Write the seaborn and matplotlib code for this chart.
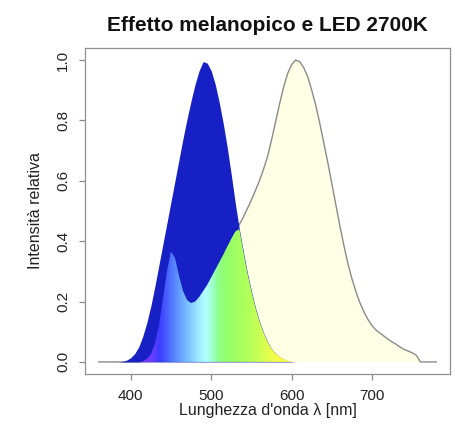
import numpy as np
import pandas as pd
import matplotlib
matplotlib.use("Agg")
import matplotlib.pyplot as plt
from matplotlib.colors import LinearSegmentedColormap
import seaborn as sns

# ---- data ----
wavelength = list(range(360, 785, 5))

melanopic = [
    0, 0, 0, 0, 0, 0,                  # 360-385
    0.002, 0.006, 0.014, 0.028, 0.05,  # 390-410
    0.085, 0.13, 0.185, 0.25, 0.32,    # 415-435
    0.39, 0.46, 0.53, 0.60, 0.67,      # 440-460
    0.74, 0.805, 0.865, 0.92, 0.965,   # 465-485
    0.995, 0.99, 0.965, 0.92, 0.86,    # 490-510
    0.79, 0.71, 0.62, 0.525, 0.44,     # 515-535
    0.365, 0.295, 0.235, 0.18, 0.135,  # 540-560
    0.097, 0.067, 0.044, 0.028, 0.017, # 565-585
    0.009, 0.004, 0.001,               # 590-600
] + [0] * 36                           # 605-780

led_2700k = [
    0, 0, 0, 0, 0, 0, 0, 0, 0, 0, 0,   # 360-410
    0.002, 0.01, 0.025, 0.06, 0.12,    # 415-435
    0.21, 0.30, 0.365, 0.345, 0.285,   # 440-460
    0.235, 0.205, 0.195, 0.2, 0.215,   # 465-485
    0.235, 0.255, 0.28, 0.305, 0.33,   # 490-510
    0.355, 0.382, 0.408, 0.432, 0.455, # 515-535
    0.48, 0.508, 0.537, 0.568, 0.60,   # 540-560
    0.638, 0.68, 0.735, 0.795, 0.855,  # 565-585
    0.91, 0.955, 0.985, 1.0, 0.995,    # 590-610
    0.975, 0.945, 0.90, 0.85, 0.79,    # 615-635
    0.725, 0.66, 0.59, 0.52, 0.45,     # 640-660
    0.385, 0.325, 0.275, 0.232, 0.195, # 665-685
    0.165, 0.14, 0.12, 0.105, 0.095,   # 690-710
    0.085, 0.075, 0.066, 0.058, 0.049, # 715-735
    0.041, 0.036, 0.03, 0.022, 0.0,    # 740-760
    0, 0, 0, 0,                        # 765-780
]

# spectral colours used to paint the overlap, by wavelength
spectrum_nm = [380, 410, 425, 435, 445, 455, 465, 475, 485, 492, 500, 507,
               515, 530, 550, 565, 580, 595, 620]
spectrum_col = ["#6a00b0", "#8a3af0", "#6a3cff", "#3c3cff", "#4a64ff",
                "#5a8cff", "#70b0ff", "#88d0ff", "#a0eeff", "#b0ffff",
                "#a0ffd0", "#90ff90", "#90ff70", "#a0ff60", "#b8ff58",
                "#d8ff50", "#f8ff48", "#ffff40", "#ffe040"]

x_ticks = [400, 500, 600, 700]
y_ticks = [0.0, 0.2, 0.4, 0.6, 0.8, 1.0]
title = "Effetto melanopico e LED 2700K"
x_label = "Lunghezza d'onda λ [nm]"
y_label = "Intensità relativa"

df = pd.DataFrame({"wl": wavelength, "mel": melanopic, "led": led_2700k})
df["overlap"] = np.minimum(df["mel"], df["led"])

# ---- style ----
sns.set_theme(style="white")
plt.rcParams["font.family"] = ["Liberation Sans", "DejaVu Sans"]
text_col = "#222222"

fig = plt.figure(figsize=(4.56, 4.25), dpi=100)
ax = fig.add_axes([85 / 456, 1 - 374 / 425, 365 / 456, 326 / 425])

blue = "#1620C4"
cream = "#FFFFE6"

ax.fill_between(df["wl"], 0, df["led"], color=cream, lw=0, zorder=1)
sns.lineplot(data=df, x="wl", y="led", color="#8a8a8a", lw=1.0, ax=ax,
             zorder=2, legend=False)
ax.fill_between(df["wl"], 0, df["mel"], color=blue, lw=0, zorder=3)

poly = ax.fill_between(df["wl"], 0, df["overlap"], facecolor="none", lw=0,
                       zorder=4)
cmap = LinearSegmentedColormap.from_list(
    "spec",
    [((w - spectrum_nm[0]) / (spectrum_nm[-1] - spectrum_nm[0]), c)
     for w, c in zip(spectrum_nm, spectrum_col)])
grad = np.linspace(spectrum_nm[0], spectrum_nm[-1], 400)[None, :]
im = ax.imshow(grad, extent=[spectrum_nm[0], spectrum_nm[-1], 0, 1.0],
               aspect="auto", cmap=cmap, origin="lower", zorder=4,
               interpolation="bilinear")
im.set_clip_path(poly.get_paths()[0], transform=ax.transData)

ax.set_xlim(343.2, 796.8)
ax.set_ylim(-0.04, 1.04)
ax.set_xticks(x_ticks)
ax.set_yticks(y_ticks)
ax.set_yticklabels([f"{v:.1f}" for v in y_ticks], rotation=90, va="center")
ax.tick_params(axis="both", direction="out", length=4.3, width=0.9,
               color="#888888", labelsize=11, labelcolor=text_col,
               bottom=True, left=True)
ax.tick_params(axis="x", pad=6.8)
ax.tick_params(axis="y", pad=6.5)
for s in ax.spines.values():
    s.set_color("#909090")
    s.set_linewidth(0.9)
    s.set_visible(True)

ax.set_xlabel(x_label, fontsize=11.5, color=text_col, labelpad=0)
ax.set_ylabel(y_label, fontsize=11.5, color=text_col, labelpad=9)
ax.set_title(title, fontsize=15, fontweight="bold", color="#111111", pad=12)

fig.savefig("out.png", dpi=100, facecolor="white")
